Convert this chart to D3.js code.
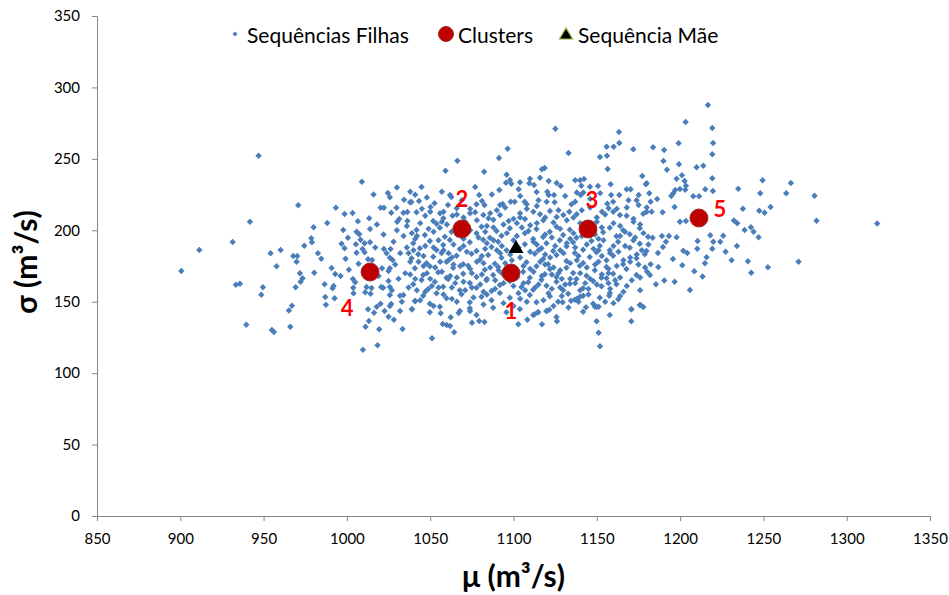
<!DOCTYPE html>
<html>
<head>
<meta charset="utf-8">
<script src="https://cdn.jsdelivr.net/npm/d3@7"></script>
<style>
  body { margin: 0; background: #fff; }
  text { font-family: Lato, "Liberation Sans", sans-serif; }
</style>
</head>
<body>
<div id="chart"></div>
<script>
// axis ticks
const xTicks = [850, 900, 950, 1000, 1050, 1100, 1150, 1200, 1250, 1300, 1350];
const yTicks = [0, 50, 100, 150, 200, 250, 300, 350];

// clusters (mu, sigma)
const clusterIds = ["1", "2", "3", "4", "5"];
const clusterMu = [1098.5, 1069, 1144.7, 1013.9, 1211.3];
const clusterSigma = [170.1, 200.9, 200.9, 170.8, 208.6];
// label offsets in px (layout only)
const labelOffsets = [[0, 37], [0, -31], [4, -30], [-23, 35], [21, -10]];

// sequencia mae
const maeMu = [1101.5];
const maeSigma = [188.3];

const legendLabels = ["Sequências Filhas", "Clusters", "Sequência Mãe"];

// sequencias filhas [mu, sigma]
const filhas = [
  [947,252.2],[1009,234],[970.8,217.5],[941.8,206],[988.2,205.1],[993.4,215.8],[998.6,211.4],[1003.4,212.1],
  [1006.6,206.3],[1013.4,208.4],[1020.2,215.8],[1022.2,215.8],[1024.6,226.1],[1025.8,223.1],[1026.6,212.3],
  [1029.8,215.8],[1034.3,221.4],[1033.9,212.3],[1036.3,212.8],[1031.4,207.9],[1030.2,206],[1036.3,206.5],[1037.9,219.6],
  [1125.1,271.1],[1163.3,268.8],[1163.5,261.1],[1155.9,258.5],[1160.1,258.5],[1171.9,256.7],[1096.5,257.1],
  [1133,254.1],[1151.9,251.3],[1156.1,252.2],[1091.3,250.6],[1066.3,248.7],[1059.2,241.7],[1082.4,241],
  [1117.1,242.7],[1118.7,243.6],[1156.5,242.9],[1095.9,238.9],[1044.8,230.3],[1041,224.9],[1177.3,238],[1179.9,232.9],
  [1043.3,220.5],[1038.7,219.8],[1041.8,212.6],[1047,210.2],[1050.2,216.3],[1052.6,218.9],[1060.7,217.7],
  [1061.9,224.7],[1062.7,223.3],[1077,230.3],[1079.4,224.7],[1081.1,220.5],[1082.6,217.7],[1077.8,218.2],
  [1091.5,228.2],[1095.5,233.3],[1097.9,235.2],[1098.7,232.6],[1091.9,217.7],[1093.5,218.4],[1098.3,220],
  [1100.7,220],[1103.9,233.6],[1103.1,228.7],[1109.9,236.1],[1112.3,231.7],[1109.5,232.9],[1113.9,226.8],
  [1106.7,220],[1107.9,218.2],[1115.9,236.8],[1121.1,234.5],[1120.3,227],[1121.1,224.7],[1119.9,220],
  [1125.9,233.1],[1128.3,231],[1124.3,224.7],[1124.7,219.6],[1137,235],[1139.9,235],[1142.3,235.9],[1140.7,231.2],
  [1138,226.5],[1134.8,218.2],[1137,220],[1140.3,224.7],[1141.9,226.5],[1145.9,230.5],[1150.7,231],[1158.3,232.2],
  [1158.6,224.7],[1163.5,224.7],[1159.8,220],[1156.3,218.6],[1167.9,228.7],[1170.3,228.7],[1175.1,224.7],
  [1173.9,221],[1175.1,217.7],[1179.5,232.2],[1181.5,225.9],[1179.9,213],[1177.9,211.6],[1163.9,210.7],
  [1167.9,210.2],[1153.1,213],[1157.1,215.4],[1159.9,213],[1133.5,213],[1137.9,211.2],[1121.9,213.5],
  [1125.9,209.3],[1129.9,210.7],[1111.9,213],[1115.9,211.2],[1117.9,207],[1103.9,211.9],[1106.9,207.9],
  [1091.9,210.7],[1087.9,207.4],[1097.1,206.5],[1081.9,210.7],[1085,208.4],[1073.9,211.9],[1077,212.6],
  [1055.9,211.9],[1057.9,208.4],[1051.8,206.5],[1053.8,204.6],[1065.9,215.4],[1063.4,210.2],
  [1216.7,287.7],[1203.3,275.8],[1219.3,271.6],[1183.8,258.1],[1190.4,256.2],[1199.1,260.9],[1219.8,261.1],
  [1219.3,253.2],[1190,248.5],[1192.1,242.4],[1199.3,246.2],[1209.9,244.1],[1213.9,245.2],[1197.9,236.1],
  [1201.1,238.5],[1202.7,234.5],[1203.5,231.2],[1203.1,228.4],[1219.3,236.4],[1215.1,228.7],[1219.7,227.5],
  [1199.9,228.9],[1197.1,228.2],[1195.9,225.9],[1194.7,224],[1207.9,223.8],[1211.4,223.8],[1186.2,221.9],
  [1182.3,220],[1196.7,216.3],[1182.9,213],[1189.5,212.6],[1234.9,229.1],[1249.5,235],[1248.1,225.9],
  [1266.5,233.1],[1263.7,225.9],[1280.7,224.2],[1237.7,215.1],[1247.5,213.7],[1250.7,212.3],[1254.3,216.3],
  [1281.9,206.7],[1232.3,206.9],[1234.3,204.9],[1199.9,206],[1203.5,206.5],[1318.3,204.7],
  [1183.5,194.8],[1189.1,196],[1193.3,196],[1197.9,195.1],[1191.5,192],[1189.7,188.3],[1186.7,184.1],
  [1201.9,185.7],[1204.3,184.1],[1210.5,192.5],[1210.3,187.1],[1218.1,196.5],[1225.9,196.2],[1219.9,192],
  [1224.1,192],[1219.3,187.1],[1227.3,185],[1234.1,189],[1238.7,200.2],[1242.5,202.1],[1244.1,199],
  [1247.1,195.1],[1195.7,179.9],[1215.9,181.1],[1214.9,176.9],[1230.9,179],[1240.7,178.3],[1252.7,174.1],
  [1242.7,170.3],[1271.1,178],[1182.3,176.2],[1186.9,174.3],[1201.3,175.5],[1208.5,171.3],[1213.5,167.6],
  [1185.5,162.2],[1190.5,164.8],[1196.7,164],[1205.9,158.2],[1181.9,168.7],
  [900.6,171.5],[911.4,186.2],[931.4,191.8],[933.4,161.9],[935.8,162.6],[939.6,133.9],[954.2,183.9],
  [960.2,186.2],[957.8,174.8],[949.6,160.1],[948.6,154.9],[955,130.2],[956.2,128.8],[966,132.5],[965.2,143.8],
  [967,147.2],[969.2,160.1],[971.8,169.9],[973.4,166.4],[972.2,164],[967.8,182],[970.2,182],[969.8,178],
  [974.4,189.2],[978.6,194.4],[979,191.6],[980,202.1],[982.6,183.9],[984.6,180.1],[980.4,170.3],[986.6,162.2],
  [990.8,173.6],[993,169.4],[991.4,159.4],[992,161],[987,153.3],[987.4,147.9],[992.6,152.4],[996.2,168],
  [997.8,200.2],[1000.6,194.8],[996.8,190.6],[998.6,187.4],[999.2,180.1],[1001.2,172.4],[1003.6,165.9],
  [1005,163.6],[1003.8,159.8],[1004,155.9],[1005.8,199],[1007.4,197.2],[1008.2,193.4],[1005.4,190.2],
  [1010.6,190.9],[1013.9,191.6],[1009.4,186.9],[1010.6,184.6],[1005.8,184.3],[1013.9,200.9],[1012.7,179.7],
  [1015.1,179.2],[1007,176.6],[1011.8,160.3],[1014.8,159.6],[1011,156.6],[1014.2,155.6],[1011.2,132.5],
  [1013.2,136.5],[1009.6,116.4],[1018.4,119.5],[1019.4,130.7],[1012.7,144.7],[1016.3,142.3],[1017.9,146.5],
  [1020.2,148.6],[1022.6,143.5],[1025,139.5],[1028.2,137.4],[1031.9,143.5],[1033.4,130.9],[1025.8,147],
  [1026.6,148.4],[1025.8,154.7],[1031.9,154.2],[1033.9,154.7],[1020.6,160.3],[1021.8,159.8],[1025.8,160.3],
  [1025,164.5],[1021.1,173.4],[1025.8,173.4],[1025,171.5],[1022.2,186.9],[1026.2,186.9],[1023.8,183.9],
  [1025.8,180.8],[1027.4,179.2],
  [1030,200],[1034,196],[1028,192],[1036,188],[1032,184],[1038,178],[1029,176],[1035,170],[1031,166],
  [1037,160],[1027,158],[1033,150],[1016,225],[1030,230],[1038,227],[1018,204],[1022,197],[1017,188],[1019,168],
  // core, row by row
  [1041.8,200.2],[1046.8,196.7],[1055.8,201.8],[1058.8,195.5],[1062.8,199],[1077.8,197.9],[1080.8,202.5],
  [1085.8,194.8],[1089.8,199.5],[1092.8,196.2],[1097.8,201.4],[1106.8,197.9],[1113.8,200.9],[1117.8,195.3],
  [1121.8,199],[1125.8,202.5],[1129.8,196.7],[1133.8,200.4],[1137.8,194.8],[1153.8,198.6],[1157.8,201.8],
  [1161.8,195.8],[1165.8,200],[1169.8,197.2],[1175.8,201.4],[1180.8,195.5],
  [1039.8,190.9],[1043.8,187.4],[1049.8,192.5],[1053.8,186.2],[1057.8,189.7],[1061.8,193.2],[1067.8,186.9],
  [1073.8,191.6],[1077.8,185.5],[1081.8,193.4],[1086.8,188.3],[1090.8,192],[1095.8,186],[1106.8,190.2],
  [1111.8,193.9],[1116.8,187.4],[1119.8,190.9],[1123.8,185.5],[1127.8,193],[1131.8,188.8],[1135.8,191.6],
  [1141.8,186.4],[1146.8,192.5],[1151.8,189.2],[1157.8,186],[1162.8,192],[1169.8,187.8],[1175.8,190.6],[1179.8,185.5],
  [1038.8,180.4],[1042.8,183.2],[1047.8,176.9],[1051.8,181.5],[1056.8,184.1],[1059.8,178],[1065.8,182.2],
  [1069.8,176.2],[1074.8,183.6],[1079.8,179.4],[1084.8,182.7],[1088.8,176.6],[1092.8,180.8],[1107.8,177.6],
  [1112.8,183.6],[1117.8,179.9],[1120.8,176.2],[1125.8,182.7],[1131.8,178.5],[1136.8,184.1],[1141.8,177.1],
  [1145.8,181.3],[1149.8,184.6],[1155.8,179],[1159.8,182.2],[1165.8,176.2],[1173.8,180.4],[1178.8,183.2],
  [1040.8,173.4],[1045.8,168.7],[1049.8,174.8],[1054.8,170.6],[1059.8,166.8],[1063.8,173.8],[1069.8,169.6],
  [1072.8,175.2],[1077.8,167.3],[1082.8,172.4],[1087.8,168.7],[1090.8,174.3],[1105.8,171],[1109.8,166.8],
  [1113.8,174.8],[1118.8,169.2],[1121.8,172.9],[1125.8,167.3],[1131.8,173.8],[1135.8,170.1],[1139.8,175.2],
  [1143.8,168.2],[1148.8,172],[1152.8,166.8],[1155.8,174.3],[1159.8,169.6],[1167.8,172.9],[1173.8,168.7],[1180.2,171],
  [1039.8,162.2],[1044.8,165.2],[1048.8,158.9],[1052.8,164],[1057.8,160.5],[1060.8,165.9],[1067.8,158],
  [1073.8,163.1],[1077.8,159.8],[1083.8,165],[1086.8,157.5],[1091.8,161.7],[1097.8,164.5],[1104.8,160.3],
  [1108.8,163.6],[1111.8,158.4],[1116.8,165.4],[1119.8,161.2],[1125.8,164],[1129.8,158],[1133.8,162.6],
  [1137.8,165.9],[1141.8,159.4],[1147.8,164.5],[1152.8,160.8],[1155.8,166.4],[1161.8,162.2],
  [1040.8,150.5],[1045.8,154.2],[1049.8,148.6],[1053.8,155.9],[1059.8,152.4],[1068.8,155.2],[1073.8,149.6],
  [1080.8,153.5],[1086.8,151],[1091.8,156.1],[1097.8,152.8],[1109.8,154.7],[1113.8,149.6],[1121.8,153.8],
  [1126.8,150],[1132.8,155.6],[1136.8,151.4],[1141.8,154.2],[1147.8,148.6],[1151.8,152.8],[1157.8,156.1],
  [1039,144.7],[1049.8,142.6],[1055.8,146.5],[1067.8,143.5],[1073.8,145.4],[1077.8,140.7],[1087.8,145.8],
  [1095.8,142.6],[1103.8,144.9],[1111.8,140.7],[1114.8,142.6],[1119.8,143.5],[1125.8,139.3],[1141.8,143],
  [1149.8,146.5],[1157.8,140.7],[1170.8,144.7],[1175.8,147.7],
  [1057.5,134.4],[1059.9,133.7],[1061.9,133],[1075.1,135.3],[1079.4,136.5],[1082.6,135.8],[1102.9,134.2],
  [1108.3,137.4],[1117.1,134.2],[1126.1,136.3],[1149.9,136.3],[1170.7,136.3],[1051.1,124.4],[1064.4,128.6],
  [1151.1,128.3],[1151.9,118.8],[1056.3,141.9],[1062.3,139.1],[1067.1,142.1],[1073.9,143.5],[1039.1,144.7],
  [1041.1,150.5],[1112.7,141.2],[1114.7,142.6],[1119.9,143.5],[1121.5,144.4],[1134.5,150.7],[1129.5,149.6],
  [1138,151.9],[1143.5,146.1],[1139.9,153.5],[1170.7,144.7],[1176.3,147.7],[1177.9,146.3],[1148.9,146.5],
  [1151.1,146.5],[1157.5,154.2],[1162.9,151.7],
  // core, second pass
  [1044,205],[1060,204],[1071,206],[1084,203],[1102,205],[1110,203.5],[1124,205.5],[1146,204],[1150,206],
  [1164,203],[1172,206],[1088,202],
  [1039,198],[1052,199],[1066,197],[1074,200],[1096,198],[1109,199.5],[1119,197],[1136,198],[1143,200],
  [1149,197],[1167,199],[1178,198],
  [1041,194],[1047,189],[1064,190],[1070,194],[1084,191],[1093,189],[1100,193],[1114,190],[1125,189],
  [1134,194],[1144,190],[1154,193],[1160,189],[1172,193],[1181,190],
  [1040,186],[1046,182],[1058,186],[1063,181],[1072,185],[1081,182],[1090,186],[1098,183],[1104,181],
  [1115,186],[1122,181],[1128,186],[1139,182],[1148,187],[1153,182],[1163,185],[1170,181],[1177,186],
  [1043,178],[1053,174],[1061,179],[1068,175],[1078,178],[1086,174],[1095,177],[1106,175],[1116,178],
  [1124,174],[1134,177],[1144,174],[1151,178],[1162,175],[1170,178],[1179,174],
  [1038,169],[1050,166],[1057,171],[1066,167],[1075,170],[1084,166],[1093,170],[1102,167],[1112,171],
  [1123,169],[1129,166],[1140,170],[1146,166],[1157,170],[1164,167],[1171,165],
  [1042,158],[1051,161],[1063,160],[1071,158],[1080,162],[1089,159],[1100,161],[1107,158],[1115,162],
  [1123,159],[1131,162],[1140,158],[1150,162],[1158,159],[1168,161],[1176,158],
  [1044,151],[1058,155],[1066,150],[1076,153],[1084,155],[1094,149],[1104,152],[1118,151],[1129,154],
  [1139,150],[1145,155],[1155,150],[1164,154],
  [1045,215],[1058,213],[1070,209],[1078,207],[1090,214],[1100,208],[1108,215],[1119,209],[1132,207],
  [1141,214],[1150,209],[1162,215],[1172,208],[1180,216],
  // core, third pass
  [1036,203],[1049,201],[1057,206],[1068,202],[1083,199],[1094,204],[1105,202],[1114,205],[1128,201],
  [1140,205],[1153,202],[1160,205],[1176,204],
  [1042,196],[1055,193],[1069,198],[1079,195],[1088,193],[1102,196],[1112,192],[1123,195],[1132,191],
  [1141,196],[1151,194],[1164,196],[1173,195],
  [1037,184],[1052,188],[1061,184],[1070,189],[1083,187],[1092,184],[1103,188],[1110,185],[1119,183],
  [1130,184],[1137,188],[1151,186],[1158,184],[1167,189],[1174,183],
  [1046,175],[1056,178],[1064,176],[1074,173],[1082,177],[1091,172],[1099,179],[1110,173],[1119,176],
  [1128,172],[1138,179],[1149,176],[1157,173],[1166,179],[1175,176],
  [1041,166],[1048,170],[1062,168],[1070,164],[1081,169],[1089,165],[1096,168],[1106,163],[1117,168],
  [1127,170],[1134,166],[1143,163],[1153,169],[1161,165],[1176,167],
  [1047,157],[1055,160],[1065,163],[1075,160],[1082,157],[1094,163],[1103,156],[1113,160],[1121,156],
  [1128,160],[1137,163],[1145,159],[1157,163],[1166,157],
  [1050,213],[1066,211],[1074,215],[1086,212],[1095,216],[1104,209],[1114,217],[1127,214],[1136,209],
  [1146,216],[1155,211],[1168,216],
  [1048,223],[1057,227],[1069,221],[1087,225],[1104,224],[1115,221],[1131,224],[1146,222],[1152,226],[1169,221],
  [1052,147],[1063,152],[1082,148],[1100,147],[1108,150],[1124,147],[1133,146],[1160,149]
];

const width = 949;
const height = 595;
const margin = { top: 16, right: 19, bottom: 79, left: 97 };

const svg = d3
  .select("#chart")
  .append("svg")
  .attr("width", width)
  .attr("height", height);

const x = d3
  .scaleLinear()
  .domain([850, 1350])
  .range([margin.left, width - margin.right]);

const y = d3
  .scaleLinear()
  .domain([0, 350])
  .range([height - margin.bottom, margin.top]);

// axes
const xAxis = svg
  .append("g")
  .attr("transform", "translate(0," + (height - margin.bottom) + ")")
  .call(d3.axisBottom(x).tickValues(xTicks).tickSize(5).tickPadding(12).tickFormat(d3.format("d")));

const yAxis = svg
  .append("g")
  .attr("transform", "translate(" + margin.left + ",0)")
  .call(d3.axisLeft(y).tickValues(yTicks).tickSize(5).tickPadding(12).tickFormat(d3.format("d")));

[xAxis, yAxis].forEach((g) => {
  g.selectAll("path, line").attr("stroke", "#868686").attr("stroke-width", 1);
  g.selectAll("text").attr("fill", "#000").style("font-size", "15px");
});

// axis titles
svg
  .append("text")
  .attr("x", x(1100))
  .attr("y", 587)
  .attr("text-anchor", "middle")
  .style("font-size", "30px")
  .style("font-weight", "bold")
  .text("μ (m³/s)");

svg
  .append("text")
  .attr("transform", "translate(37,262) rotate(-90)")
  .attr("text-anchor", "middle")
  .style("font-size", "30px")
  .style("font-weight", "bold")
  .text("σ (m³/s)");

// points
const diamond = "M0,-3.2L3.2,0L0,3.2L-3.2,0Z";

svg
  .selectAll(".filha")
  .data(filhas)
  .enter()
  .append("path")
  .attr("class", "filha")
  .attr("d", diamond)
  .attr("fill", "#4A7EBB")
  .attr("transform", (d) => "translate(" + x(d[0]) + "," + y(d[1]) + ")");

svg
  .selectAll(".cluster")
  .data(clusterIds)
  .enter()
  .append("circle")
  .attr("class", "cluster")
  .attr("cx", (d, i) => x(clusterMu[i]))
  .attr("cy", (d, i) => y(clusterSigma[i]))
  .attr("r", 9)
  .attr("fill", "#BE0000")
  .attr("stroke", "#9C2A2A")
  .attr("stroke-width", 1);

const triangle = "M0,-7L7.5,6L-7.5,6Z";

svg
  .selectAll(".mae")
  .data(maeMu)
  .enter()
  .append("path")
  .attr("class", "mae")
  .attr("d", triangle)
  .attr("fill", "#000")
  .attr("transform", (d, i) => "translate(" + x(d) + "," + y(maeSigma[i]) + ")");

svg
  .selectAll(".cluster_label")
  .data(clusterIds)
  .enter()
  .append("text")
  .attr("class", "cluster_label")
  .attr("x", (d, i) => x(clusterMu[i]) + labelOffsets[i][0])
  .attr("y", (d, i) => y(clusterSigma[i]) + labelOffsets[i][1])
  .attr("text-anchor", "middle")
  .attr("dominant-baseline", "central")
  .attr("fill", "#FF0000")
  .style("font-size", "22px")
  .style("font-weight", "bold")
  .text((d) => d);

// legend
const legend = svg.append("g").attr("transform", "translate(0,34)");
const legendX = [235, 446, 566];

legend
  .append("path")
  .attr("d", "M0,-2.5L2.5,0L0,2.5L-2.5,0Z")
  .attr("fill", "#4A7EBB")
  .attr("transform", "translate(" + legendX[0] + ",0)");

legend
  .append("circle")
  .attr("cx", legendX[1])
  .attr("cy", 0)
  .attr("r", 7.5)
  .attr("fill", "#BE0000")
  .attr("stroke", "#9C2A2A");

legend
  .append("path")
  .attr("d", "M0,-6L6.5,5L-6.5,5Z")
  .attr("fill", "#000")
  .attr("stroke", "#8DB247")
  .attr("stroke-width", 1.2)
  .attr("transform", "translate(" + legendX[2] + ",0)");

legend
  .selectAll(".legend_text")
  .data(legendLabels)
  .enter()
  .append("text")
  .attr("class", "legend_text")
  .attr("x", (d, i) => legendX[i] + 12)
  .attr("y", 0)
  .attr("dominant-baseline", "central")
  .style("font-size", "21px")
  .attr("fill", "#000")
  .text((d) => d);
</script>
</body>
</html>
